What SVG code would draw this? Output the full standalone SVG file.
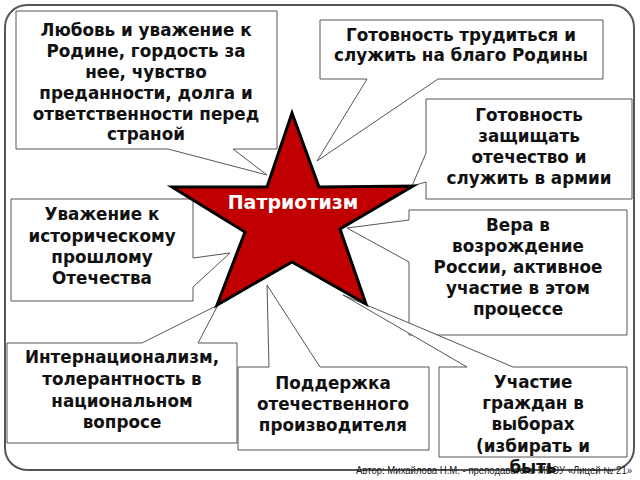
<svg xmlns="http://www.w3.org/2000/svg" width="640" height="480" viewBox="0 0 640 480">
<style>
.b{fill:#fff;stroke:#555;stroke-width:1}
.t{font-family:"DejaVu Sans",sans-serif;font-weight:bold;font-size:16.8px;fill:#111;text-anchor:middle}
</style>
<rect x="0" y="0" width="640" height="480" fill="#fff"/>
<rect x="5" y="5" width="629" height="465" rx="22" fill="none" stroke="#555" stroke-width="2"/>
<g id="connectors"></g>
<g id="n1"><path class="b" d="M16,11H277V149H233L267,175L168,149H16Z"/>
<text class="t"><tspan x="146" y="36">Любовь и уважение к</tspan><tspan x="146" y="57">Родине, гордость за</tspan><tspan x="146" y="78">нее, чувство</tspan><tspan x="146" y="99">преданности, долга и</tspan><tspan x="146" y="120">ответственности перед</tspan><tspan x="146" y="140">страной</tspan></text></g>
<g id="n2"><path class="b" d="M320,20H603V79H438L317,161L367,79H320Z"/>
<text class="t"><tspan x="461" y="41">Готовность трудиться и</tspan><tspan x="461" y="61">служить на благо Родины</tspan></text></g>
<g id="n3"><path class="b" d="M426,99H632V199H426V182L412,186L426,153Z"/>
<text class="t"><tspan x="529" y="121">Готовность</tspan><tspan x="529" y="142">защищать</tspan><tspan x="529" y="163">отечество и</tspan><tspan x="529" y="184">служить в армии</tspan></text></g>
<g id="n4"><path class="b" d="M409,210H627V335H409V262L347,228L409,220Z"/>
<text class="t"><tspan x="518" y="231">Вера в</tspan><tspan x="518" y="252">возрождение</tspan><tspan x="518" y="273">России, активное</tspan><tspan x="518" y="294">участие в этом</tspan><tspan x="518" y="315">процессе</tspan></text></g>
<g id="n5"><path class="b" d="M11,199H193V258L230,253L193,287V301H11Z"/>
<text class="t"><tspan x="102" y="220">Уважение к</tspan><tspan x="102" y="242">историческому</tspan><tspan x="102" y="263">прошлому</tspan><tspan x="102" y="284">Отечества</tspan></text></g>
<g id="n6"><path class="b" d="M7,343H142L218,305L198,343H237V443H7Z"/>
<text class="t"><tspan x="122" y="363">Интернационализм,</tspan><tspan x="122" y="385">толерантность в</tspan><tspan x="122" y="407">национальном</tspan><tspan x="122" y="428">вопросе</tspan></text></g>
<g id="n7"><path class="b" d="M238,367H269L267,285L320,367H429V450H238Z"/>
<text class="t"><tspan x="333" y="389">Поддержка</tspan><tspan x="333" y="410">отечественного</tspan><tspan x="333" y="431">производителя</tspan></text></g>
<g id="n8"><path class="b" d="M439,367H467L343,295L513,367H627V457H439Z"/>
<text class="t"><tspan x="533" y="388">Участие</tspan><tspan x="533" y="409">граждан в</tspan><tspan x="533" y="430">выборах</tspan><tspan x="533" y="452">(избирать и</tspan><tspan x="533" y="473">быть</tspan></text></g>
<g id="star"><path d="M292,113L319,187L413,186L340,229L366,304L292,262L217,305L245,232L172,187L267,187Z" fill="#c00000" stroke="#000" stroke-width="3" stroke-linejoin="miter"/>
<text x="293" y="209" font-family="DejaVu Sans,sans-serif" font-weight="bold" font-size="19" fill="#fff" text-anchor="middle">Патриотизм</text></g>
<text x="356" y="474" font-family="Liberation Sans,sans-serif" font-size="10" fill="#222" textLength="276" lengthAdjust="spacingAndGlyphs">Автор: Михайлова Н.М. - преподаватель МБОУ «Лицей № 21»</text>
</svg>
